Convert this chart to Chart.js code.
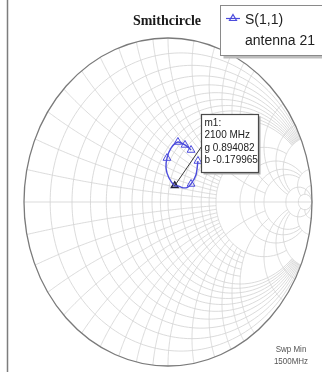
<!DOCTYPE html>
<html>
<head>
<meta charset="utf-8">
<script src="https://cdn.jsdelivr.net/npm/chart.js@4.4.1/dist/chart.umd.min.js"></script>
<style>
  html, body { margin: 0; padding: 0; background: #ffffff; }
  #wrap { position: relative; width: 322px; height: 372px; }
  canvas { display: block; }
</style>
</head>
<body>
<div id="wrap"><canvas id="smith" width="322" height="372"></canvas></div>
<script>
// S(1,1) sweep of antenna 21, reflection coefficient (real / imaginary part)
const freqMHz = [1500, 1600, 1700, 1800, 1900, 2000, 2100, 2200, 2300, 2400, 2500, 2600, 2700, 2800];
const gammaRe = [0.208, 0.194, 0.160, 0.132, 0.097, 0.069, 0.0465, 0.007, -0.014, -0.007, 0.021, 0.069, 0.118, 0.160];
const gammaIm = [0.250, 0.165, 0.110, 0.088, 0.088, 0.098, 0.0994, 0.146, 0.207, 0.268, 0.329, 0.366, 0.348, 0.317];

// marker m1, normalised admittance read-out
const markerName = 'm1';
const markerFreqMHz = 2100;
const markerG = 0.894082;
const markerB = -0.179965;

// Smith grid values: constant resistance circles and constant reactance arcs
const resistanceTicks = [0.1, 0.2, 0.3, 0.4, 0.5, 0.6, 0.7, 0.8, 0.9, 1.0, 1.2, 1.4, 1.6, 1.8, 2.0, 3.0, 4.0, 5.0, 10, 20];
const reactanceTicks = [0.1, 0.2, 0.3, 0.4, 0.5, 0.6, 0.7, 0.8, 0.9, 1.0, 1.2, 1.4, 1.6, 1.8, 2.0, 3.0, 4.0, 5.0, 10, 20];

const chartTitle = 'Smithcircle';
const legendLines = ['S(1,1)', 'antenna 21'];
const sweepLabel = ['Swp Min', '1500MHz'];

// admittance y = g + jb  ->  reflection coefficient (1 - y) / (1 + y)
function admittanceToGamma(g, b) {
  const nr = 1 - g, ni = -b, dr = 1 + g, di = b;
  const d = dr * dr + di * di;
  return { x: (nr * dr + ni * di) / d, y: (ni * dr - nr * di) / d };
}
// impedance z = r + jx  ->  reflection coefficient (z - 1) / (z + 1)
function impedanceToGamma(r, x) {
  const nr = r - 1, ni = x, dr = r + 1, di = x;
  const d = dr * dr + di * di;
  return { x: (nr * dr + ni * di) / d, y: (ni * dr - nr * di) / d };
}

const isMajor = v => [1, 2, 5, 10, 20].includes(v);
// how far each grid line reaches before it is cut off
function reactanceReach(r) {
  if (r >= 10) return 1e6;
  if (r >= 3) return 10;
  return isMajor(r) || r < 1 ? 5 : 2;
}
function resistanceReach(x) {
  if (x >= 10) return 20;
  if (x >= 3) return 10;
  return isMajor(x) ? 5 : 2;
}

const tracePoints = freqMHz.map((f, i) => ({ x: gammaRe[i], y: gammaIm[i] }));
const markerIndex = freqMHz.indexOf(markerFreqMHz);
const markerPoint = admittanceToGamma(markerG, markerB);
const symbolIndexes = [0, 2, 9, 11, 12, 13];

const smithGrid = {
  id: 'smithGrid',
  beforeDatasetsDraw(chart) {
    const { ctx, scales } = chart;
    const X = v => scales.x.getPixelForValue(v);
    const Y = v => scales.y.getPixelForValue(v);
    ctx.save();
    ctx.lineWidth = 0.8;
    ctx.strokeStyle = '#d2d2d2';
    // constant resistance circles
    resistanceTicks.forEach(r => {
      const lim = Math.atan(reactanceReach(r));
      ctx.beginPath();
      const n = 160;
      for (let k = 0; k <= n; k++) {
        const v = -lim + (2 * lim * k) / n;
        const p = impedanceToGamma(r, Math.tan(v));
        if (k === 0) ctx.moveTo(X(p.x), Y(p.y)); else ctx.lineTo(X(p.x), Y(p.y));
      }
      ctx.stroke();
    });
    // constant reactance arcs (both signs)
    reactanceTicks.forEach(xv => {
      const rmax = resistanceReach(xv);
      const umax = rmax / (1 + rmax);
      [1, -1].forEach(s => {
        ctx.beginPath();
        const n = 120;
        for (let k = 0; k <= n; k++) {
          const u = (umax * k) / n;
          const p = impedanceToGamma(u / (1 - u), s * xv);
          if (k === 0) ctx.moveTo(X(p.x), Y(p.y)); else ctx.lineTo(X(p.x), Y(p.y));
        }
        ctx.stroke();
      });
    });
    // real axis
    ctx.beginPath();
    ctx.moveTo(X(-1), Y(0));
    ctx.lineTo(X(1), Y(0));
    ctx.stroke();
    // outer |Gamma| = 1 boundary
    ctx.strokeStyle = '#7a7a7a';
    ctx.lineWidth = 1.3;
    ctx.beginPath();
    ctx.ellipse(X(0), Y(0), X(1) - X(0), Y(0) - Y(1), 0, 0, Math.PI * 2);
    ctx.stroke();
    ctx.restore();
  }
};

function stretchedText(ctx, text, x, y, sy) {
  ctx.save();
  ctx.translate(x, y);
  ctx.scale(1, sy);
  ctx.fillText(text, 0, 0);
  ctx.restore();
}

const annotations = {
  id: 'annotations',
  afterDraw(chart) {
    const { ctx, scales } = chart;
    const X = v => scales.x.getPixelForValue(v);
    const Y = v => scales.y.getPixelForValue(v);
    ctx.save();

    // left frame rule
    ctx.strokeStyle = '#7d7d7d';
    ctx.lineWidth = 1.5;
    ctx.beginPath();
    ctx.moveTo(7.5, 0);
    ctx.lineTo(7.5, 372);
    ctx.stroke();

    // title
    ctx.fillStyle = '#1a1a1a';
    ctx.font = 'bold 14px "Liberation Serif", serif';
    ctx.textAlign = 'center';
    ctx.textBaseline = 'alphabetic';
    stretchedText(ctx, chartTitle, 167, 25, 1.1);

    // legend box with drop shadow
    const lx = 220.5, ly = 5.5, lw = 110, lh = 50;
    ctx.fillStyle = '#bdbdbd';
    ctx.fillRect(lx + 3, ly + 3, lw, lh);
    ctx.fillStyle = '#ffffff';
    ctx.fillRect(lx, ly, lw, lh);
    ctx.strokeStyle = '#8a8a8a';
    ctx.lineWidth = 1;
    ctx.strokeRect(lx, ly, lw, lh);
    const ds = chart.data.datasets[0];
    ctx.strokeStyle = ds.borderColor;
    ctx.lineWidth = 1.2;
    ctx.beginPath();
    ctx.moveTo(226, 18.5);
    ctx.lineTo(240, 18.5);
    ctx.stroke();
    ctx.beginPath();
    ctx.moveTo(233, 14.5);
    ctx.lineTo(236.5, 20.5);
    ctx.lineTo(229.5, 20.5);
    ctx.closePath();
    ctx.stroke();
    ctx.fillStyle = '#222222';
    ctx.textAlign = 'left';
    ctx.font = '14px "Liberation Sans", Arial, sans-serif';
    stretchedText(ctx, legendLines[0], 245, 24, 1.1);
    stretchedText(ctx, legendLines[1], 245, 45, 1.1);

    // marker read-out box and leader line
    const mx = X(markerPoint.x), my = Y(markerPoint.y);
    const bx = 201.5, by = 114.5, bw = 57, bh = 58;
    ctx.strokeStyle = '#3a3a3a';
    ctx.lineWidth = 1;
    ctx.beginPath();
    ctx.moveTo(mx, my);
    ctx.lineTo(bx, by + 32);
    ctx.stroke();
    ctx.fillStyle = '#b0b0b0';
    ctx.fillRect(bx + 2, by + 2, bw, bh);
    ctx.fillStyle = '#ffffff';
    ctx.fillRect(bx, by, bw, bh);
    ctx.strokeStyle = '#4a4a4a';
    ctx.lineWidth = 1.2;
    ctx.strokeRect(bx, by, bw, bh);
    ctx.fillStyle = '#222222';
    ctx.font = '10px "Liberation Sans", Arial, sans-serif';
    const readout = [
      markerName + ':',
      markerFreqMHz + ' MHz',
      'g ' + markerG.toFixed(6),
      'b ' + markerB.toFixed(6)
    ];
    readout.forEach((t, i) => stretchedText(ctx, t, bx + 3, by + 11 + i * 12.6, 1.14));

    // sweep start note
    ctx.fillStyle = '#555555';
    ctx.font = '8px "Liberation Sans", Arial, sans-serif';
    ctx.textAlign = 'center';
    stretchedText(ctx, sweepLabel[0], 291, 352, 1.1);
    stretchedText(ctx, sweepLabel[1], 291, 364, 1.1);
    ctx.restore();
  }
};

new Chart(document.getElementById('smith'), {
  type: 'scatter',
  data: {
    datasets: [
      {
        label: legendLines[0],
        data: tracePoints,
        showLine: true,
        borderColor: '#4b4bdc',
        borderWidth: 1.4,
        pointStyle: 'triangle',
        pointRadius: ctx => (symbolIndexes.includes(ctx.dataIndex) ? 4.5 : 0),
        pointBorderColor: '#4b4bdc',
        pointBackgroundColor: 'rgba(255,255,255,0)',
        pointBorderWidth: 1,
        tension: 0.3
      },
      {
        label: markerName,
        data: [markerPoint],
        showLine: false,
        pointStyle: 'triangle',
        pointRadius: 4,
        pointBorderColor: '#1e1e3c',
        pointBackgroundColor: 'rgba(60,60,90,0.5)',
        pointBorderWidth: 1.3
      }
    ]
  },
  options: {
    responsive: false,
    maintainAspectRatio: false,
    animation: false,
    layout: { padding: { left: 24, right: 10, top: 38, bottom: 6 } },
    scales: {
      x: { type: 'linear', min: -1, max: 1, display: false },
      y: { type: 'linear', min: -1, max: 1, display: false }
    },
    plugins: {
      legend: { display: false },
      tooltip: { enabled: false },
      title: { display: false }
    }
  },
  plugins: [smithGrid, annotations]
});
</script>
</body>
</html>
